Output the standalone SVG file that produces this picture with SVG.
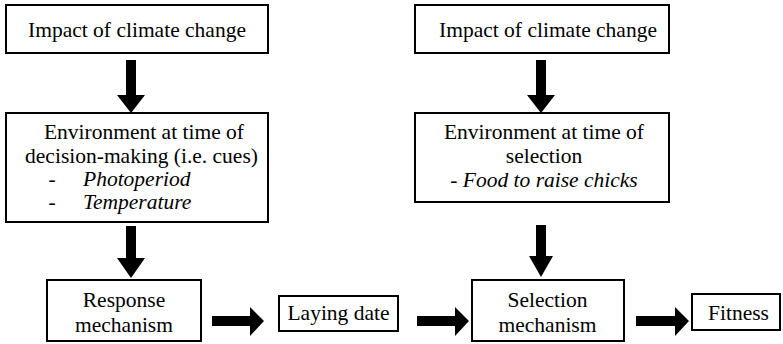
<svg xmlns="http://www.w3.org/2000/svg" width="783" height="344" viewBox="0 0 783 344">
<rect width="783" height="344" fill="#fff"/>
<g id="impact1">
<rect x="6" y="5" width="262" height="48" fill="#fff" stroke="#000" stroke-width="2"/>
<text x="137" y="37" font-family="Liberation Serif" font-size="21.5" text-anchor="middle" fill="#000">Impact of climate change</text>
</g>
<g id="env1">
<rect x="6" y="113" width="262" height="109" fill="#fff" stroke="#000" stroke-width="2"/>
<text x="144" y="139" font-family="Liberation Serif" font-size="21.5" text-anchor="middle" fill="#000">Environment at time of</text>
<text x="141.5" y="163" font-family="Liberation Serif" font-size="21.5" text-anchor="middle" fill="#000">decision-making (i.e. cues)</text>
<text x="52" y="186" font-family="Liberation Serif" font-size="21.5" text-anchor="middle" fill="#000">-</text>
<text x="83" y="186" font-family="Liberation Serif" font-size="21.5" font-style="italic" fill="#000">Photoperiod</text>
<text x="52" y="209" font-family="Liberation Serif" font-size="21.5" text-anchor="middle" fill="#000">-</text>
<text x="83" y="209" font-family="Liberation Serif" font-size="21.5" font-style="italic" fill="#000">Temperature</text>
</g>
<g id="response">
<rect x="47" y="280" width="154" height="61" fill="#fff" stroke="#000" stroke-width="2"/>
<text x="124" y="307" font-family="Liberation Serif" font-size="21.5" text-anchor="middle" fill="#000">Response</text>
<text x="124" y="332" font-family="Liberation Serif" font-size="21.5" text-anchor="middle" fill="#000">mechanism</text>
</g>
<g id="laying">
<rect x="279" y="296" width="119" height="35" fill="#fff" stroke="#000" stroke-width="2"/>
<text x="338.5" y="320" font-family="Liberation Serif" font-size="21.5" text-anchor="middle" fill="#000">Laying date</text>
</g>
<g id="impact2">
<rect x="415" y="5" width="254" height="48" fill="#fff" stroke="#000" stroke-width="2"/>
<text x="548" y="37" font-family="Liberation Serif" font-size="21.5" text-anchor="middle" fill="#000">Impact of climate change</text>
</g>
<g id="env2">
<rect x="415" y="113" width="254" height="89" fill="#fff" stroke="#000" stroke-width="2"/>
<text x="544" y="139" font-family="Liberation Serif" font-size="21.5" text-anchor="middle" fill="#000">Environment at time of</text>
<text x="544" y="163" font-family="Liberation Serif" font-size="21.5" text-anchor="middle" fill="#000">selection</text>
<text x="544" y="187" font-family="Liberation Serif" font-size="21.5" font-style="italic" text-anchor="middle" fill="#000">- Food to raise chicks</text>
</g>
<g id="selection">
<rect x="472" y="280" width="152" height="61" fill="#fff" stroke="#000" stroke-width="2"/>
<text x="547.5" y="307" font-family="Liberation Serif" font-size="21.5" text-anchor="middle" fill="#000">Selection</text>
<text x="547.5" y="332" font-family="Liberation Serif" font-size="21.5" text-anchor="middle" fill="#000">mechanism</text>
</g>
<g id="fitness">
<rect x="692" y="294" width="88" height="36" fill="#fff" stroke="#000" stroke-width="2"/>
<text x="738.5" y="320" font-family="Liberation Serif" font-size="21.5" text-anchor="middle" fill="#000">Fitness</text>
</g>
<g id="connectors" fill="#000" stroke="none">
<polygon points="126,60 136,60 136,95 145,95 131,113 117,95 126,95"/>
<polygon points="126,226 136,226 136,258 145,258 131,278 117,258 126,258"/>
<polygon points="536,60 546,60 546,95 555,95 541,113 527,95 536,95"/>
<polygon points="536,225 546,225 546,256 553,256 541,277 529,256 536,256"/>
<polygon points="212,316 250,316 250,307 264,321 250,336 250,326 212,326"/>
<polygon points="417,316 455,316 455,307 469,321 455,336 455,326 417,326"/>
<polygon points="636,316 675,316 675,307 689,321 675,336 675,326 636,326"/>
</g>
</svg>
